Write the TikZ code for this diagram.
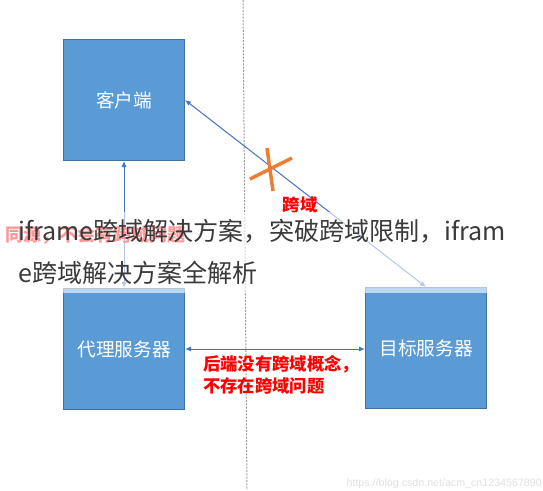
\documentclass[tikz,border=0pt]{standalone}
\usepackage{fontspec}
\usepackage{xcolor}
\usetikzlibrary{arrows.meta}
\newfontfamily\cjk{Noto Sans CJK SC}
\newfontfamily\wmfont{Liberation Sans}
\definecolor{boxblue}{HTML}{5B9BD5}
\definecolor{boxedge}{HTML}{41719C}
\definecolor{linkblue}{HTML}{4472C4}
\definecolor{crossorange}{HTML}{ED7D31}
\definecolor{overlaygray}{HTML}{3A3A3A}

\begin{document}
\begin{tikzpicture}[x=0.75pt, y=-0.75pt,
    server/.style={draw=boxedge, fill=boxblue, line width=0.75pt, minimum width=90.75pt, minimum height=90.75pt, inner sep=0pt, text=white, font=\cjk\fontsize{14}{16}\selectfont},
    link/.style={linkblue, line width=0.75pt, {Latex[length=4.5pt,width=3.75pt]}-{Latex[length=4.5pt,width=3.75pt]}},
    redlabel/.style={text=red, inner sep=0pt, font=\cjk\bfseries\fontsize{13}{16.5}\selectfont},
    titleline/.style={anchor=base west, inner sep=0pt, text=overlaygray, font=\cjk\fontsize{18.8}{19}\selectfont}]

            \useasboundingbox (0,0) rectangle (543,490);

            % Boundary between the two domains
            \draw[gray!80, line width=0.75pt, dash pattern=on 1.5pt off 1pt] (243,0) -- (247,490);

            % Servers
            \node[server] (client) at (124,100) {客户端};
            \node[server] (proxy) at (124,349) {代理服务器};
            \node[server] (target) at (426,348) {目标服务器};

            % Requests
            \draw[link] (proxy.north) -- (client.south); % same origin
            \draw[link] (proxy.east) -- (proxy.east -| target.west); % backend call
            \draw[link] (client.east) -- (target.north); % blocked call

            % Cross on the blocked call
            \draw[crossorange, line width=2.6pt] (267,148) -- (273,191);
            \draw[crossorange, line width=2.6pt] (250,179) -- (292,158);

            % Labels
            \node[redlabel] (crosslabel) at (300,205) {跨域};
            \node[redlabel, anchor=west, align=left] (backlabel) at (203,375) {后端没有跨域概念，\\不存在跨域问题};
            \node[redlabel, anchor=west, font=\cjk\bfseries\fontsize{13.5}{16}\selectfont] (samelabel) at (5,235) {同源，不会有跨域问题};

            % Overlay title
            \fill[white, opacity=0.6] (0,212) rectangle (543,292.5);
            \node[titleline] (title1) at (18,240) {iframe跨域解决方案，突破跨域限制，ifram};
            \node[titleline] (title2) at (18,282) {e跨域解决方案全解析};

            % Watermark
            \node[anchor=east, inner sep=0pt, text=black!12, font=\wmfont\fontsize{8}{8}\selectfont] (mark) at (542,484) {https://blog.csdn.net/acm\_cn1234567890};

        \end{tikzpicture}
\end{document}
